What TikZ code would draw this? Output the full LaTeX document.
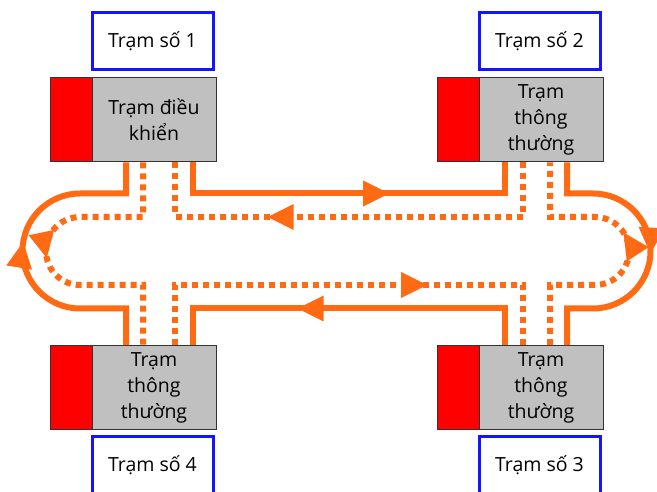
\documentclass[tikz,border=0pt]{standalone}
\usepackage{fontspec}
\setmainfont{Open Sans}
\usetikzlibrary{arrows.meta,decorations.markings}
\definecolor{orng}{HTML}{FF6A13}
\definecolor{bluebox}{HTML}{1414FF}
\definecolor{greybox}{HTML}{C0C0C0}
\definecolor{redbox}{HTML}{FF0000}
\begin{document}
\begin{tikzpicture}[x=1pt,y=-1pt,
  tag/.style={draw=bluebox,line width=3pt,fill=white,minimum width=121pt,minimum height=57pt,inner sep=0pt,font=\fontsize{19.5}{26}\selectfont},
  station/.style={draw=black!80,line width=1pt,fill=greybox,minimum width=124pt,minimum height=84pt,inner sep=0pt,align=center,font=\fontsize{19.5}{26}\selectfont},
  redpart/.style={draw=black!80,line width=1pt,fill=redbox,minimum width=42pt,minimum height=84pt,inner sep=0pt},
  solidtrack/.style={draw=orng,line width=6pt},
  dottrack/.style={draw=orng,line width=6pt,dash pattern=on 6pt off 5pt},
  tipat/.style={postaction={decorate},decoration={markings,mark=at position #1 with {\pgfsetdash{}{0pt}\arrow{Triangle[length=26pt,width=26pt,line width=0pt]}}}},
]
\useasboundingbox (0,0) rectangle (657,492);
% stations
\node[redpart] (r1) at (71,120) {};
\node[station] (s1) at (154,120) {Trạm điều\\khiển};
\node[tag] (b1) at (152.5,41.5) {Trạm số 1};
\node[redpart] (r2) at (458,120) {};
\node[station] (s2) at (541,120) {Trạm\\thông\\thường};
\node[tag] (b2) at (539.5,41.5) {Trạm số 2};
\node[redpart] (r3) at (458,387.5) {};
\node[station] (s3) at (541,387.5) {Trạm\\thông\\thường};
\node[tag] (b3) at (539.5,465) {Trạm số 3};
\node[redpart] (r4) at (71,387.5) {};
\node[station] (s4) at (154,387.5) {Trạm\\thông\\thường};
\node[tag] (b4) at (152.5,465) {Trạm số 4};
% solid ring (clockwise)
\draw[solidtrack,tipat=227pt] (193,0 |- s1.south) -- (193,193.5) -- (505,193.5) -- (505,0 |- s2.south);
\draw[solidtrack,tipat=150pt] (567,0 |- s2.south) -- (567,193.5) -- (593,193.5) arc[start angle=90,end angle=-90,radius=57.5pt] -- (567,308.5) -- (567,0 |- s3.north);
\draw[solidtrack,tipat=244pt] (505,0 |- s3.north) -- (505,308.5) -- (193,308.5) -- (193,0 |- s4.north);
\draw[solidtrack,tipat=182pt] (126,0 |- s4.north) -- (126,308.5) -- (80,308.5) arc[start angle=-90,end angle=-270,radius=57.5pt] -- (126,193.5) -- (126,0 |- s1.south);
% dotted ring (counter-clockwise)
\draw[dottrack,tipat=310pt] (523,0 |- s2.south) -- (523,217) -- (175,217) -- (175,0 |- s1.south);
\draw[dottrack,tipat=178pt] (143,0 |- s1.south) -- (143,217) -- (80,217) arc[start angle=90,end angle=270,radius=34pt] -- (143,285) -- (143,0 |- s4.north);
\draw[dottrack,tipat=312pt] (175,0 |- s4.north) -- (175,285) -- (523,285) -- (523,0 |- s3.north);
\draw[dottrack,tipat=178pt] (550,0 |- s3.north) -- (550,285) -- (595,285) arc[start angle=-90,end angle=90,radius=34pt] -- (550,217) -- (550,0 |- s2.south);
\end{tikzpicture}
\end{document}
